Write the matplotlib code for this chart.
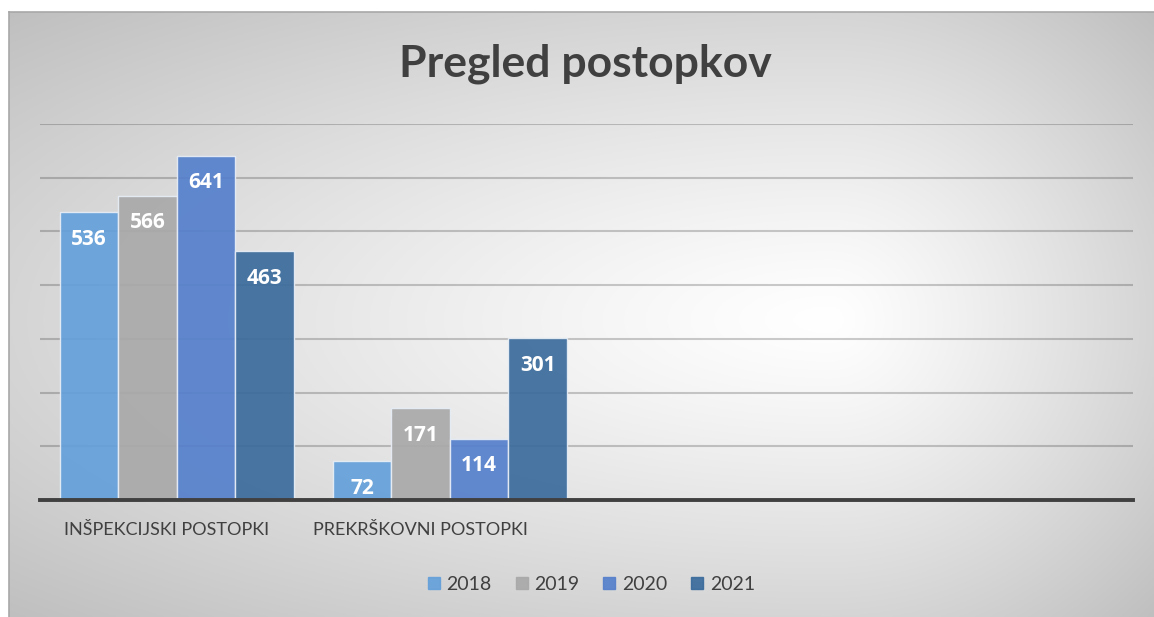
import numpy as np
import matplotlib.pyplot as plt
import matplotlib.transforms as mtransforms
from matplotlib.lines import Line2D

plt.rcParams['font.family'] = ['Lato', 'DejaVu Sans']

categories = ['INŠPEKCIJSKI POSTOPKI', 'PREKRŠKOVNI POSTOPKI', '', '']
years = ['2018', '2019', '2020', '2021']
v2018 = [536, 72, 0, 0]
v2019 = [566, 171, 0, 0]
v2020 = [641, 114, 0, 0]
v2021 = [463, 301, 0, 0]
series = [v2018, v2019, v2020, v2021]
colors = ['#64a0da', '#a9a9a9', '#5580cc', '#3a6b9c']
label_shift_px = [-10, -29, 0, 0]

W, H = 1154, 617
fig = plt.figure(figsize=(W / 100, H / 100), dpi=100)
fig.patch.set_facecolor('white')

# background panel with radial-ish gradient
bg = fig.add_axes([9 / W, 0, 1 - 9 / W, 1 - 12 / H], zorder=-5)
xs = np.linspace(9, W, 600)
ys = np.linspace(12, H, 320)
X, Y = np.meshgrid(xs, ys)
cx, cy = 830, 320
u = np.where(X < cx, (X - cx) / (cx - 9), (X - cx) / (W - cx))
v = np.where(Y < cy, (Y - cy) / (cy - 12), (Y - cy) / (H - cy))
d = np.clip(np.sqrt(u ** 2 + v ** 2) / np.sqrt(2), 0, 1)
g = 1.0 - 0.25 * d ** 1.2
bg.imshow(np.dstack([g, g, g]), aspect='auto', extent=[0, 1, 0, 1], origin='upper')
bg.set_xlim(0, 1)
bg.set_ylim(0, 1)
bg.set_xticks([])
bg.set_yticks([])
for s in bg.spines.values():
    s.set_color('#a8a8a8')
    s.set_linewidth(1.2)
bg.spines['right'].set_visible(False)
bg.spines['bottom'].set_visible(False)

ax = fig.add_axes([40 / W, (H - 500) / H, 1093 / W, 376 / H])
ax.patch.set_alpha(0)
w = 0.2143
x = np.arange(len(categories))
for j, vals in enumerate(series):
    pos = x + (j - 1.5) * w
    bars = ax.bar(pos, vals, width=w, color=colors[j], alpha=0.92,
                  edgecolor='#e8eef6', linewidth=1.0, zorder=3, label=years[j])
    for p, val in zip(pos, vals):
        if val > 0:
            ax.annotate(str(val), (p, val), xytext=(0, -27), textcoords='offset pixels',
                        ha='center', va='center', color='white', fontsize=15,
                        fontweight='bold', family=['Open Sans', 'DejaVu Sans'], zorder=5)

ax.set_xlim(-0.5, 3.5)
ax.set_ylim(0, 700)
ax.set_yticks(np.arange(100, 701, 100))
ax.yaxis.grid(True, color='#000000', alpha=0.2, linewidth=1.5, zorder=0)
ax.set_axisbelow(True)
ax.tick_params(axis='y', length=0, labelleft=False)
for s in ['top', 'right', 'left']:
    ax.spines[s].set_visible(False)
ax.spines['bottom'].set_color('#404040')
ax.spines['bottom'].set_linewidth(2.8)
ax.spines['bottom'].set_zorder(6)

ax.set_xticks(x)
ax.set_xticklabels(categories, fontsize=13, color='#404040')
ax.tick_params(axis='x', length=0, pad=16)
for lab, sh in zip(ax.get_xticklabels(), label_shift_px):
    off = mtransforms.ScaledTranslation(sh / 100, 0, fig.dpi_scale_trans)
    lab.set_transform(lab.get_transform() + off)

fig.text(585 / W, (H - 77) / H, 'Pregled postopkov', ha='center', va='baseline',
         fontsize=32, fontweight='bold', color='#404040')

handles = [Line2D([], [], marker='s', linestyle='none', markersize=9,
                  markerfacecolor=c, markeredgecolor=c, alpha=0.92) for c in colors]
fig.legend(handles, years, loc='center', bbox_to_anchor=(590 / W, (H - 584) / H),
           ncol=4, frameon=False, fontsize=14, labelcolor='#404040',
           handletextpad=0.2, columnspacing=1.1, handlelength=0.9)

fig.savefig('out.png', dpi=100)
